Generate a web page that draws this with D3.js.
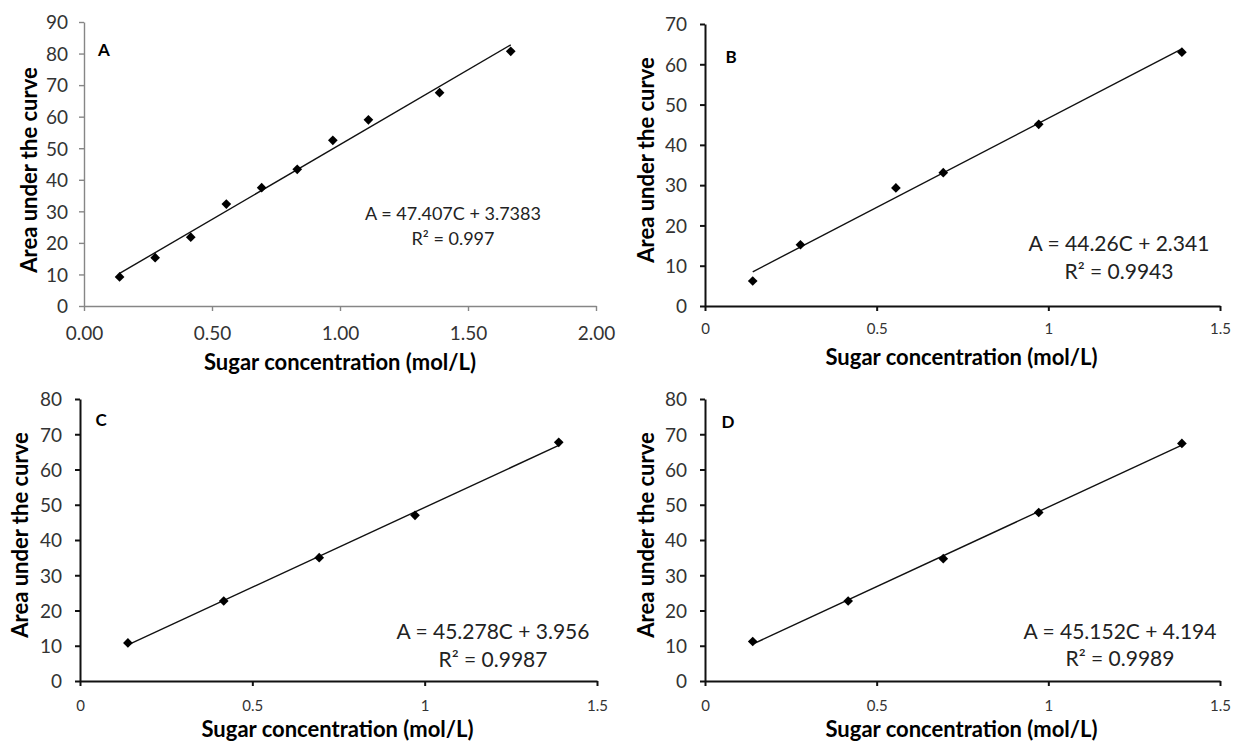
<!DOCTYPE html>
<html>
<head>
<meta charset="utf-8">
<script src="https://cdn.jsdelivr.net/npm/d3@7"></script>
<style>
  html, body { margin: 0; padding: 0; background: #fff; }
  svg { display: block; }
  text { font-family: Lato, "Open Sans", sans-serif; }
</style>
</head>
<body>
<svg id="svg" width="1233" height="744"></svg>
<script>
// ---- data ----
const concA = [0.139, 0.278, 0.417, 0.556, 0.694, 0.833, 0.972, 1.111, 1.389, 1.667];
const areaA = [9.2, 15.3, 21.8, 32.3, 37.5, 43.3, 52.5, 59.0, 67.6, 80.7];

const concB = [0.139, 0.278, 0.556, 0.694, 0.972, 1.389];
const areaB = [6.2, 15.2, 29.3, 33.1, 45.1, 63.0];

const concC = [0.139, 0.417, 0.694, 0.972, 1.389];
const areaC = [10.8, 22.7, 35.0, 47.0, 67.7];

const concD = [0.139, 0.417, 0.694, 0.972, 1.389];
const areaD = [11.2, 22.7, 34.7, 47.8, 67.4];

// trendline coefficients as printed on each panel
const panelNames = ['A', 'B', 'C', 'D'];
const slopes = [47.407, 44.26, 45.278, 45.152];
const intercepts = [3.7383, 2.341, 3.956, 4.194];
const eqLines = ['A = 47.407C + 3.7383', 'A = 44.26C + 2.341', 'A = 45.278C + 3.956', 'A = 45.152C + 4.194'];
const r2Lines = ['0.997', '0.9943', '0.9987', '0.9989'];

const xTicksA = [0, 0.5, 1, 1.5, 2];
const xTicksB = [0, 0.5, 1, 1.5];
const yTicksA = d3.range(0, 91, 10);
const yTicksB = d3.range(0, 71, 10);
const yTicksC = d3.range(0, 81, 10);

const X_TITLE = 'Sugar concentration (mol/L)';
const Y_TITLE = 'Area under the curve';

(function () {
  const svg = d3.select('#svg');

  // one config per panel: pixel box + look
  const panels = [
    { i: 0, x: concA, y: areaA, xd: [0, 2], yd: [0, 90], xt: xTicksA, yt: yTicksA, fmt: d3.format('.2f'),
      L: 84, R: 596, T: 22, B: 306, axis: '#868686', axisW: 1.4, xtFont: 19, xtPad: 16, ytPad: 11,
      tag: [104, 50], eq: [453, 214, 18, 25], ytx: 29, yty: 170, xty: 362 },
    { i: 1, x: concB, y: areaB, xd: [0, 1.5], yd: [0, 70], xt: xTicksB, yt: yTicksB, fmt: d3.format(''),
      L: 705, R: 1220, T: 24, B: 306, axis: '#111', axisW: 2, xtFont: 15, xtPad: 12, ytPad: 13,
      tag: [731, 57], eq: [1119, 244, 21, 28], ytx: 646, yty: 160, xty: 357 },
    { i: 2, x: concC, y: areaC, xd: [0, 1.5], yd: [0, 80], xt: xTicksB, yt: yTicksC, fmt: d3.format(''),
      L: 80, R: 597, T: 399, B: 681, axis: '#111', axisW: 2, xtFont: 15, xtPad: 14, ytPad: 13,
      tag: [101, 420], eq: [493, 632, 21, 28], ytx: 20, yty: 535, xty: 729 },
    { i: 3, x: concD, y: areaD, xd: [0, 1.5], yd: [0, 80], xt: xTicksB, yt: yTicksC, fmt: d3.format(''),
      L: 705, R: 1220, T: 399, B: 681, axis: '#111', axisW: 2, xtFont: 15, xtPad: 14, ytPad: 13,
      tag: [728, 422], eq: [1120, 632, 21, 27], ytx: 646, yty: 535, xty: 729 }
  ];

  const diamond = d3.symbol().type(d3.symbolDiamond2).size(60);

  panels.forEach(p => {
    const g = svg.append('g');
    const xs = d3.scaleLinear().domain(p.xd).range([p.L, p.R]);
    const ys = d3.scaleLinear().domain(p.yd).range([p.B, p.T]);

    // axes
    const xAxis = d3.axisBottom(xs).tickValues(p.xt).tickFormat(p.fmt).tickSizeOuter(0).tickSizeInner(5).tickPadding(p.xtPad);
    const yAxis = d3.axisLeft(ys).tickValues(p.yt).tickSizeOuter(0).tickSizeInner(5).tickPadding(p.ytPad);

    const gx = g.append('g').attr('transform', `translate(0,${p.B})`).call(xAxis);
    const gy = g.append('g').attr('transform', `translate(${p.L},0)`).call(yAxis);
    [gx, gy].forEach(a => {
      a.selectAll('path, line').attr('stroke', p.axis).attr('stroke-width', p.axisW);
      a.selectAll('text').attr('fill', '#333').style('font-family', 'Lato, sans-serif');
    });
    gx.selectAll('text').style('font-size', p.xtFont + 'px');
    gy.selectAll('text').style('font-size', '19px').attr('dy', '0.36em');

    // trendline from first to last point
    const x0 = d3.min(p.x), x1 = d3.max(p.x);
    const m = slopes[p.i], c = intercepts[p.i];
    g.append('line')
      .attr('x1', xs(x0)).attr('y1', ys(m * x0 + c))
      .attr('x2', xs(x1)).attr('y2', ys(m * x1 + c))
      .attr('stroke', '#111').attr('stroke-width', 1.4);

    // points
    g.selectAll('path.pt').data(d3.zip(p.x, p.y)).join('path')
      .attr('class', 'pt')
      .attr('d', diamond)
      .attr('transform', d => `translate(${xs(d[0])},${ys(d[1])})`)
      .attr('fill', '#000');

    // panel letter
    g.append('text').attr('x', p.tag[0]).attr('y', p.tag[1]).attr('dy', '0.35em')
      .attr('text-anchor', 'middle').style('font-size', '17px').style('font-weight', 700)
      .text(panelNames[p.i]);

    // equation + R²
    const eq = g.append('text').attr('text-anchor', 'middle').attr('fill', '#222')
      .style('font-size', p.eq[2] + 'px');
    eq.append('tspan').attr('x', p.eq[0]).attr('y', p.eq[1]).attr('dy', '0.35em').text(eqLines[p.i]);
    eq.append('tspan').attr('x', p.eq[0]).attr('y', p.eq[1] + p.eq[3]).attr('dy', '0.35em')
      .text('R² = ' + r2Lines[p.i]);

    // axis titles
    g.append('text')
      .attr('x', (p.L + p.R) / 2 + (p.i === 0 ? 0 : -1)).attr('y', p.xty).attr('dy', '0.35em')
      .attr('text-anchor', 'middle').style('font-size', '22px').style('font-weight', 700)
      .text(X_TITLE);
    g.append('text')
      .attr('transform', `translate(${p.ytx},${p.yty}) rotate(-90)`)
      .attr('dy', '0.35em')
      .attr('text-anchor', 'middle').style('font-size', '22px').style('font-weight', 700)
      .text(Y_TITLE);
  });
})();
</script>
</body>
</html>
